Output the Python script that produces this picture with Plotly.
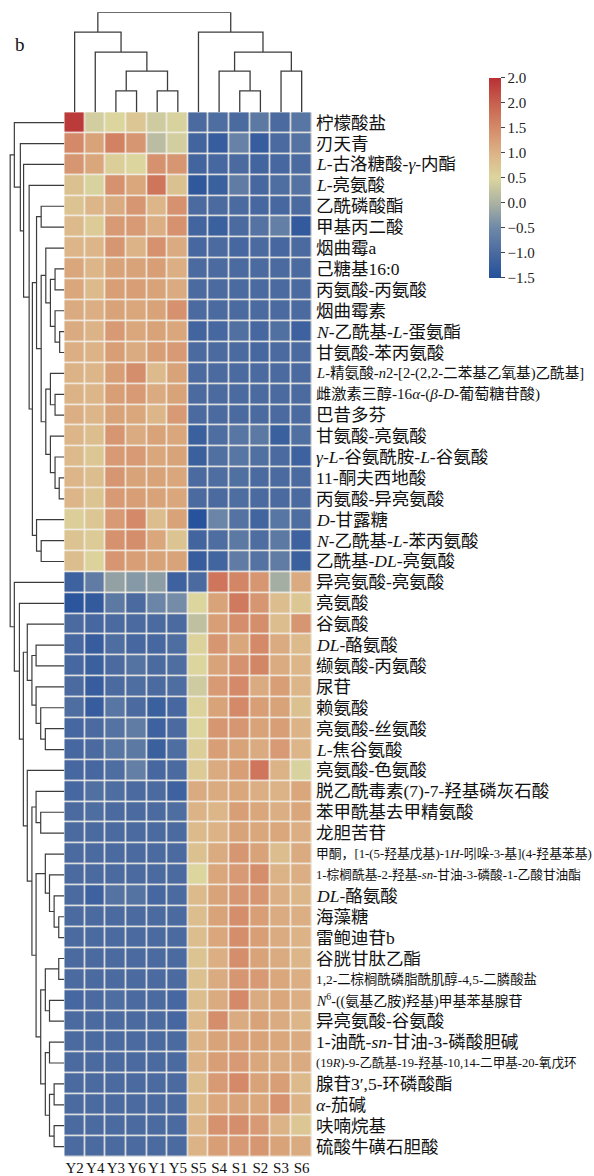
import plotly.graph_objects as go
import numpy as np

W, H = 594, 1176

samples = ["Y2", "Y4", "Y3", "Y6", "Y1", "Y5", "S5", "S4", "S1", "S2", "S3", "S6"]

metabolites = [
    "柠檬酸盐", "刃天青", "<i>L</i>-古洛糖酸-<i>γ</i>-内酯", "<i>L</i>-亮氨酸", "乙酰磷酸酯",
    "甲基丙二酸", "烟曲霉a", "己糖基16:0", "丙氨酸-丙氨酸", "烟曲霉素",
    "<i>N</i>-乙酰基-<i>L</i>-蛋氨酯", "甘氨酸-苯丙氨酸",
    "<i>L</i>-精氨酸-<i>n</i>2-[2-(2,2-二苯基乙氧基)乙酰基]",
    "雌激素三醇-16<i>α</i>-(<i>β</i>-<i>D</i>-葡萄糖苷酸)", "巴昔多芬",
    "甘氨酸-亮氨酸", "<i>γ</i>-<i>L</i>-谷氨酰胺-<i>L</i>-谷氨酸", "11-酮夫西地酸",
    "丙氨酸-异亮氨酸", "<i>D</i>-甘露糖", "<i>N</i>-乙酰基-<i>L</i>-苯丙氨酸",
    "乙酰基-<i>DL</i>-亮氨酸", "异亮氨酸-亮氨酸", "亮氨酸", "谷氨酸",
    "<i>DL</i>-酪氨酸", "缬氨酸-丙氨酸", "尿苷", "赖氨酸", "亮氨酸-丝氨酸",
    "<i>L</i>-焦谷氨酸", "亮氨酸-色氨酸", "脱乙酰毒素(7)-7-羟基磷灰石酸",
    "苯甲酰基去甲精氨酸", "龙胆苦苷",
    "甲酮，[1-(5-羟基戊基)-1<i>H</i>-吲哚-3-基](4-羟基苯基)",
    "1-棕榈酰基-2-羟基-<i>sn</i>-甘油-3-磷酸-1-乙酸甘油酯",
    "<i>DL</i>-酪氨酸", "海藻糖", "雷鲍迪苷b", "谷胱甘肽乙酯",
    "1,2-二棕榈酰磷脂酰肌醇-4,5-二膦酸盐",
    "<i>N</i><sup>6</sup>-((氨基乙胺)羟基)甲基苯基腺苷",
    "异亮氨酸-谷氨酸", "1-油酰-<i>sn</i>-甘油-3-磷酸胆碱",
    "(19<i>R</i>)-9-乙酰基-19-羟基-10,14-二甲基-20-氧戊环",
    "腺苷3′,5-环磷酸酯", "<i>α</i>-茄碱", "呋喃烷基", "硫酸牛磺石胆酸",
]

# z-scored abundance per sample (one list per column, rows in display order)
Y2 = [2.4, 1.5, 1.35, 0.8, 0.75, 0.9, 0.95, 1.15, 1.15, 1.1,
      1.1, 1.05, 1.0, 1.0, 1.05, 0.95, 0.9, 0.95, 0.95, 0.6,
      0.75, 0.85, -1.15, -1.4, -1.0, -1.05, -1.05, -1.0, -0.95, -1.05,
      -1.05, -1.05, -1.05, -1.0, -1.0, -1.0, -1.0, -1.0, -1.0, -1.0,
      -1.0, -1.0, -1.05, -1.0, -1.0, -1.0, -1.0, -1.0, -1.0, -1.0]
Y4 = [0.4, 1.2, 1.15, 0.45, 0.95, 0.65, 0.95, 0.95, 0.9, 1.05,
      1.0, 1.0, 0.95, 0.95, 0.95, 0.85, 0.7, 0.85, 0.75, 0.7,
      0.65, 0.55, -0.7, -1.3, -1.05, -1.25, -1.2, -1.25, -1.25, -1.0,
      -1.0, -1.05, -0.9, -0.95, -1.0, -1.0, -1.0, -1.15, -1.0, -1.0,
      -1.0, -1.0, -1.0, -1.0, -1.0, -1.0, -1.0, -1.0, -1.0, -1.0]
Y3 = [0.5, 1.6, 0.6, 1.4, 1.1, 1.3, 1.35, 1.2, 1.25, 1.2,
      1.3, 1.25, 1.25, 1.25, 1.2, 1.35, 1.3, 1.35, 1.3, 1.3,
      1.4, 1.35, -0.2, -0.75, -1.0, -0.95, -1.0, -1.0, -0.8, -0.85,
      -0.8, -0.95, -0.95, -1.0, -1.0, -1.0, -1.0, -0.85, -1.0, -1.0,
      -1.0, -1.0, -0.95, -1.0, -1.0, -1.0, -1.0, -1.0, -1.0, -1.0]
Y6 = [0.7, 1.35, 0.5, 1.15, 1.35, 1.3, 1.0, 1.2, 1.25, 1.15,
      1.15, 1.1, 1.45, 1.3, 1.15, 1.1, 1.3, 1.2, 1.25, 1.5,
      1.45, 1.25, -0.3, -1.0, -1.0, -1.05, -0.85, -0.95, -1.0, -0.7,
      -0.75, -0.65, -1.0, -1.0, -1.0, -1.0, -1.0, -0.85, -1.0, -1.0,
      -1.0, -1.0, -1.0, -1.0, -1.0, -1.0, -1.0, -1.0, -1.0, -1.0]
Y1 = [0.35, 0.15, 1.4, 1.75, 0.95, 1.05, 1.4, 1.25, 1.2, 1.2,
      1.2, 1.25, 0.9, 1.1, 0.95, 1.2, 1.15, 1.2, 1.2, 0.85,
      1.15, 1.2, -0.25, -0.55, -1.0, -1.05, -1.0, -1.0, -1.2, -1.15,
      -1.2, -1.05, -1.0, -1.0, -1.0, -1.0, -1.0, -1.05, -1.0, -1.0,
      -1.0, -1.0, -1.0, -1.0, -1.0, -1.0, -1.0, -1.0, -1.0, -1.0]
Y5 = [0.45, 0.4, 1.35, 0.8, 1.4, 1.4, 1.1, 1.05, 1.1, 1.4,
      1.15, 1.3, 1.2, 1.2, 1.3, 1.15, 1.2, 1.15, 1.15, 1.2,
      0.75, 1.2, -1.15, -0.45, -1.0, -0.95, -0.95, -0.95, -1.05, -1.0,
      -0.95, -1.0, -1.15, -0.95, -1.0, -1.0, -1.0, -1.0, -1.0, -1.0,
      -1.0, -1.0, -1.05, -1.05, -1.0, -1.0, -1.0, -1.0, -1.0, -1.0]
S5 = [-1.0, -1.1, -1.1, -1.35, -1.0, -1.1, -1.05, -1.0, -1.0, -1.0,
      -1.1, -1.0, -1.0, -1.0, -1.0, -1.2, -1.2, -1.0, -1.0, -1.45,
      -1.1, -1.25, -1.0, 0.5, 0.2, 0.55, 0.5, 0.35, 0.55, 0.5,
      0.6, 0.65, 1.1, 1.0, 0.9, 0.8, 0.5, 0.9, 0.85, 0.85,
      0.75, 0.8, 0.85, 0.9, 1.0, 1.0, 0.85, 0.9, 0.95, 1.0]
S4 = [-0.95, -1.25, -1.05, -1.2, -1.0, -1.2, -1.0, -1.0, -1.0, -1.0,
      -1.05, -1.0, -1.0, -1.0, -1.0, -0.95, -0.9, -0.95, -1.0, -0.55,
      -0.95, -1.1, 1.75, 1.2, 1.25, 1.35, 1.2, 1.3, 1.2, 1.35,
      1.25, 1.1, 1.1, 0.95, 1.0, 1.1, 1.15, 1.2, 1.2, 1.15,
      1.05, 1.1, 1.1, 1.45, 1.2, 1.25, 1.3, 1.15, 1.4, 1.25]
S1 = [-1.0, -0.6, -1.0, -0.7, -1.0, -1.0, -1.05, -1.0, -1.0, -1.0,
      -0.9, -1.0, -1.0, -1.0, -1.0, -0.8, -0.8, -0.9, -0.95, -0.85,
      -0.75, -0.7, 1.55, 1.7, 1.45, 1.15, 1.4, 1.5, 1.5, 1.35,
      1.2, 1.25, 1.15, 1.25, 1.2, 1.35, 1.3, 1.35, 1.45, 1.45,
      1.45, 1.35, 1.5, 1.1, 1.25, 1.3, 1.5, 1.2, 1.45, 1.3]
S2 = [-0.75, -1.25, -1.1, -1.05, -1.05, -0.85, -1.0, -1.0, -1.0, -1.0,
      -1.05, -1.05, -1.0, -1.0, -1.0, -0.75, -0.9, -1.0, -1.0, -1.1,
      -0.95, -0.85, 1.35, 1.35, 1.45, 1.5, 1.55, 1.1, 1.25, 1.2,
      1.1, 1.75, 1.05, 1.15, 1.15, 1.2, 1.45, 1.35, 1.25, 1.25,
      1.2, 1.3, 1.1, 1.2, 1.2, 1.15, 1.2, 1.15, 1.3, 1.35]
S3 = [-1.0, -1.0, -1.05, -0.95, -1.05, -0.65, -1.05, -1.0, -1.0, -1.0,
      -0.9, -1.0, -1.0, -1.0, -1.0, -1.2, -1.0, -1.0, -1.0, -0.8,
      -0.75, -0.7, -0.05, 0.85, 0.85, 1.1, 1.1, 1.25, 1.2, 1.25,
      1.3, 1.0, 1.0, 1.05, 1.15, 0.85, 1.0, 1.05, 1.1, 1.1,
      1.1, 1.15, 1.15, 1.1, 1.15, 1.1, 1.25, 1.4, 1.0, 1.2]
S6 = [-0.8, -0.85, -1.0, -0.85, -1.0, -1.3, -1.0, -1.0, -1.0, -1.0,
      -1.15, -1.0, -1.0, -1.0, -1.0, -0.9, -1.15, -1.0, -1.0, -0.95,
      -1.15, -1.2, 1.1, 0.7, 1.35, 0.9, 0.95, 0.95, 0.8, 1.0,
      0.95, 0.45, 1.15, 1.15, 1.05, 1.1, 1.05, 0.95, 1.05, 1.0,
      0.95, 1.05, 1.05, 0.95, 1.1, 1.1, 0.9, 1.0, 0.7, 1.1]

# column clustering: (child a, child b, height); ids >= 12 are merged clusters
col_links = [
    (2, 3, 1.07), (4, 5, 1.07), (12, 13, 2.06), (1, 14, 3.01), (0, 15, 4.01),
    (8, 9, 1.07), (7, 17, 2.06), (10, 11, 2.06), (18, 19, 3.01), (6, 20, 4.01),
    (16, 21, 5.0),
]

# row clustering: (child a, child b, height); ids >= 50 are merged clusters
row_links = [
    (10, 11, 1.0),    # 50
    (9, 50, 2.0),     # 51
    (7, 8, 2.0),      # 52
    (52, 51, 3.0),    # 53
    (6, 53, 4.0),     # 54
    (13, 14, 2.0),    # 55
    (12, 55, 3.0),    # 56
    (17, 18, 1.1),    # 57
    (16, 57, 2.0),    # 58
    (15, 58, 3.0),    # 59
    (56, 59, 4.0),    # 60
    (54, 60, 5.0),    # 61
    (4, 5, 5.0),      # 62
    (62, 61, 6.0),    # 63
    (20, 21, 5.0),    # 64
    (19, 64, 6.0),    # 65
    (63, 65, 6.9),    # 66
    (3, 66, 7.6),     # 67
    (2, 67, 8.8),     # 68
    (1, 68, 9.5),     # 69
    (0, 69, 10.8),    # 70
    (25, 26, 6.1),    # 71
    (29, 30, 4.1),    # 72
    (28, 72, 5.1),    # 73
    (27, 73, 6.1),    # 74
    (71, 74, 7.0),    # 75
    (24, 75, 8.0),    # 76
    (33, 34, 5.1),    # 77
    (32, 77, 6.1),    # 78
    (38, 39, 1.2),    # 79
    (40, 41, 1.2),    # 80
    (37, 79, 2.2),    # 81
    (36, 81, 3.2),    # 82
    (35, 82, 4.1),    # 83
    (42, 43, 3.2),    # 84
    (80, 84, 4.1),    # 85
    (44, 45, 3.2),    # 86
    (46, 47, 2.2),    # 87
    (48, 49, 2.2),    # 88
    (87, 88, 3.2),    # 89
    (86, 89, 4.1),    # 90
    (85, 90, 5.1),    # 91
    (83, 91, 6.1),    # 92
    (78, 92, 7.0),    # 93
    (31, 93, 8.0),    # 94
    (76, 94, 8.85),   # 95
    (23, 95, 9.7),    # 96
    (22, 96, 10.8),   # 97
    (70, 97, 11.7),   # 98
]

colorbar_ticks = [2.5, 2.0, 1.5, 1.0, 0.5, 0.0, -0.5, -1.0, -1.5]
colorbar_text = ["2.0", "2.0", "1.5", "1.0", "0.5", "0.0", "−0.5", "−1.0", "−1.5"]

# ---------------------------------------------------------------- styling
SERIF = "Liberation Serif, Noto Sans CJK SC, serif"
LINE = "#3c3c3c"
label_size = {12: 14.6, 13: 15.2, 35: 12.8, 36: 12.7, 41: 13.4, 42: 14.0, 45: 12.6}
default_label_size = 17.5

colorscale = [
    [0.0, "#23509b"], [0.125, "#4a6aa0"], [0.25, "#6e88a8"],
    [0.375, "#abb2a2"], [0.5, "#dcd59e"], [0.625, "#dcb386"],
    [0.75, "#d48a68"], [0.875, "#c8604f"], [1.0, "#b83035"],
]

columns = [Y2, Y4, Y3, Y6, Y1, Y5, S5, S4, S1, S2, S3, S6]
z = np.column_stack([np.asarray(c, dtype=float) for c in columns])
n_rows, n_cols = z.shape


def dendro_paths(links, n_leaves):
    """Return (position, height) polylines for a linkage list."""
    pos = {i: float(i) for i in range(n_leaves)}
    hgt = {i: 0.0 for i in range(n_leaves)}
    p_list, h_list = [], []
    for k, (a, b, h) in enumerate(links):
        cid = n_leaves + k
        p_list += [pos[a], pos[a], pos[b], pos[b], None]
        h_list += [hgt[a], h, h, hgt[b], None]
        pos[cid] = (pos[a] + pos[b]) / 2.0
        hgt[cid] = h
    return p_list, h_list


def fx(px):
    return px / W


def fy(py):
    return 1 - py / H


hm_left, hm_right, hm_top, hm_bottom = 64.3, 312.0, 112.5, 1160.0

fig = go.Figure()

fig.add_trace(go.Heatmap(
    z=z, x=list(range(n_cols)), y=list(range(n_rows)),
    colorscale=colorscale, zmin=-1.5, zmax=2.5,
    xgap=1.5, ygap=1.5, hoverinfo="skip",
    colorbar=dict(
        x=fx(489), xanchor="left", y=fy(78), yanchor="top",
        len=201 / H, lenmode="fraction", thickness=12, thicknessmode="pixels",
        xpad=0, ypad=0, outlinewidth=0,
        ticks="outside", ticklen=4, tickwidth=1, tickcolor="#444",
        tickvals=colorbar_ticks, ticktext=colorbar_text,
        tickfont=dict(family=SERIF, size=15, color="#222"),
    ),
    xaxis="x", yaxis="y",
))

# column dendrogram on top
cp, ch = dendro_paths(col_links, n_cols)
fig.add_trace(go.Scatter(x=cp, y=ch, mode="lines", line=dict(color=LINE, width=1.3),
                         hoverinfo="skip", showlegend=False, xaxis="x", yaxis="y2"))

# row dendrogram on the left
rp, rh = dendro_paths(row_links, n_rows)
fig.add_trace(go.Scatter(x=rh, y=rp, mode="lines", line=dict(color=LINE, width=1.2),
                         hoverinfo="skip", showlegend=False, xaxis="x2", yaxis="y"))

annotations = [dict(text="b", x=fx(13), y=fy(45), xref="paper", yref="paper",
                    xanchor="left", yanchor="middle", showarrow=False,
                    font=dict(family=SERIF, size=19, color="#111"))]
for i, name in enumerate(metabolites):
    annotations.append(dict(
        text=name, x=fx(314), y=i, xref="paper", yref="y",
        xanchor="left", yanchor="middle", showarrow=False,
        font=dict(family=SERIF, size=label_size.get(i, default_label_size), color="#111"),
    ))

fig.update_layout(
    width=W, height=H, margin=dict(l=0, r=0, t=0, b=0),
    paper_bgcolor="white", plot_bgcolor="white",
    showlegend=False,
    xaxis=dict(domain=[fx(hm_left), fx(hm_right)], range=[-0.5, n_cols - 0.5],
               tickvals=list(range(n_cols)), ticktext=samples, ticks="",
               tickangle=0, ticklabelstandoff=0,
               tickfont=dict(family=SERIF, size=15, color="#111"),
               showgrid=False, zeroline=False, showline=False, anchor="y"),
    yaxis=dict(domain=[fy(hm_bottom), fy(hm_top)], range=[n_rows - 0.5, -0.5],
               showticklabels=False, ticks="", showgrid=False, zeroline=False,
               showline=False, anchor="x"),
    yaxis2=dict(domain=[fy(hm_top), fy(12.3)], range=[0, 5.0], visible=False,
                anchor="x", fixedrange=True),
    xaxis2=dict(domain=[0, fx(hm_left)], range=[13.9, 0], visible=False,
                anchor="y", fixedrange=True),
    annotations=annotations,
    shapes=[dict(type="rect", xref="x", yref="y", x0=-0.5, x1=n_cols - 0.5,
                 y0=-0.5, y1=n_rows - 0.5, fillcolor="#f3f0e8", line=dict(width=0),
                 layer="below")],
)

fig.write_html("out.html")
